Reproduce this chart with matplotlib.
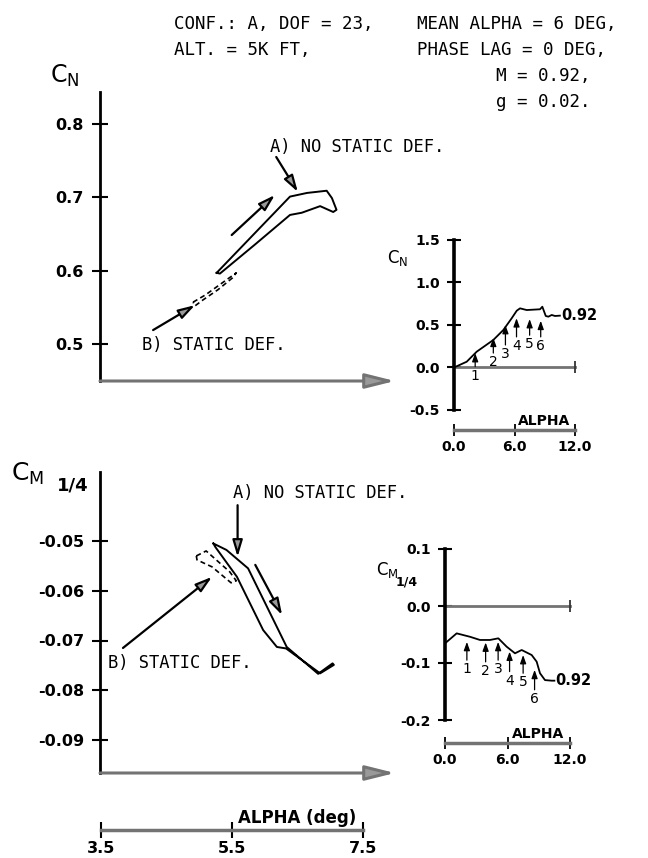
import numpy as np
import matplotlib.pyplot as plt

W, H = 648, 858
MONO = 'DejaVu Sans Mono'

header_left = ['CONF.: A, DOF = 23,', 'ALT. = 5K FT,']
header_right = ['MEAN ALPHA = 6 DEG,', 'PHASE LAG = 0 DEG,']
header_flow = ['M = 0.92,', 'g = 0.02.']

# main C_N hysteresis loops (alpha in deg, C_N)
cn_a_alpha = [5.27, 5.83, 6.39, 6.65, 6.95, 7.03, 7.10, 7.05, 6.85, 6.57, 6.39, 5.86, 5.32, 5.27]
cn_a_val = [0.597, 0.649, 0.701, 0.706, 0.709, 0.699, 0.683, 0.680, 0.688, 0.679, 0.676, 0.636, 0.596, 0.597]
cn_b_alpha = [4.91, 5.10, 5.35, 5.57, 5.51, 5.29, 5.06, 4.94, 4.91]
cn_b_val = [0.557, 0.567, 0.583, 0.597, 0.590, 0.574, 0.560, 0.552, 0.557]
cn_yticks = [0.5, 0.6, 0.7, 0.8]

# main C_M1/4 loops
cm_a_alpha = [5.22, 5.42, 5.75, 6.34, 6.82, 7.04, 7.06, 6.85, 6.33, 6.19, 5.98, 5.58, 5.25, 5.22]
cm_a_val = [-0.0505, -0.0518, -0.0555, -0.0713, -0.0767, -0.0746, -0.0749, -0.0766,
            -0.0716, -0.0713, -0.0679, -0.0572, -0.0512, -0.0505]
cm_b_alpha = [4.96, 5.11, 5.47, 5.57, 5.49, 5.20, 4.97, 4.96]
cm_b_val = [-0.0530, -0.0520, -0.0562, -0.0580, -0.0584, -0.0552, -0.0538, -0.0530]
cm_yticks = [-0.09, -0.08, -0.07, -0.06, -0.05]

main_alpha_ticks = [3.5, 5.5, 7.5]

# inset time histories vs alpha
in_cn_alpha = [0.0, 1.26, 2.25, 3.90, 4.89, 5.72, 6.22, 6.55, 7.21, 8.53, 8.76, 9.10, 9.36, 9.69, 10.02, 10.5]
in_cn_val = [0.0, 0.068, 0.186, 0.324, 0.441, 0.579, 0.668, 0.696, 0.676, 0.685, 0.715, 0.606, 0.598, 0.618, 0.606, 0.61]
in_cm_alpha = [0.1, 1.12, 2.40, 3.36, 4.32, 5.12, 5.92, 6.72, 7.36, 8.32, 8.80, 9.12, 9.60, 10.24, 10.5]
in_cm_val = [-0.064, -0.048, -0.054, -0.0596, -0.0596, -0.0567, -0.0714, -0.083, -0.0772,
             -0.086, -0.0977, -0.118, -0.130, -0.131, -0.131]
in_cn_yticks = [-0.5, 0.0, 0.5, 1.0, 1.5]
in_cm_yticks = [-0.2, -0.1, 0.0, 0.1]
in_alpha_ticks = [0.0, 6.0, 12.0]

frame_alpha = [2.1, 3.9, 5.1, 6.2, 7.5, 8.6]
frame_labels = ['1', '2', '3', '4', '5', '6']
cn_frame_tail = [0.01, 0.17, 0.265, 0.36, 0.38, 0.36]
cn_frame_head = [0.17, 0.35, 0.50, 0.58, 0.57, 0.55]
cm_frame_tail = [-0.095, -0.098, -0.095, -0.115, -0.118, -0.147]
cm_frame_head = [-0.063, -0.064, -0.063, -0.080, -0.086, -0.112]

fig = plt.figure(figsize=(W / 100, H / 100), dpi=100)


def px_axes(x0, y0, x1, y1):
    ax = fig.add_axes([x0 / W, 1 - y1 / H, (x1 - x0) / W, (y1 - y0) / H])
    ax.patch.set_alpha(0)
    ax.spines['top'].set_visible(False)
    ax.spines['right'].set_visible(False)
    return ax


def px_lim(p0, p1, ref_a, ref_b):
    # data values at pixels p0, p1 from two (pixel, value) anchors
    (pa, va), (pb, vb) = ref_a, ref_b
    k = (vb - va) / (pb - pa)
    return va + (p0 - pa) * k, va + (p1 - pa) * k


def bold_ticks(ax):
    for t in ax.get_xticklabels() + ax.get_yticklabels():
        t.set_fontweight('bold')


def axis_arrow(ax):
    ax.annotate('', xy=(1, 0), xytext=(0, 0), xycoords='axes fraction',
                arrowprops=dict(arrowstyle='-|>,head_length=1.8,head_width=0.45',
                                lw=2.2, ec='0.45', fc='0.6', shrinkA=0, shrinkB=0))


def flow_arrow(ax, tail, head):
    ax.annotate('', xy=head, xytext=tail,
                arrowprops=dict(arrowstyle='-|>,head_length=1.0,head_width=0.3',
                                lw=1.6, ec='k', fc='0.6', shrinkA=0, shrinkB=0))


alpha_ref = ((100.7, 3.5), (362.7, 7.5))
TXT = dict(family=MONO, fontsize=12.3, va='center')

# ---- main C_N ----
ax1 = px_axes(100, 92, 395, 381)
ax1.set_xlim(px_lim(100, 395, *alpha_ref))
ax1.set_ylim(px_lim(381, 92, (124, 0.8), (344, 0.5)))
ax1.spines['left'].set_linewidth(2)
ax1.spines['bottom'].set_visible(False)
ax1.set_xticks([])
ax1.set_yticks(cn_yticks, [f'{v:.1f}' for v in cn_yticks])
ax1.tick_params(axis='y', direction='inout', length=11, width=1.5, labelsize=11.5, pad=6)
bold_ticks(ax1)
axis_arrow(ax1)
ax1.plot(cn_a_alpha, cn_a_val, color='k', lw=1.4)
ax1.plot(cn_b_alpha, cn_b_val, color='k', lw=1.2, ls=(0, (3, 2)))
flow_arrow(ax1, (5.50, 0.6486), (6.16, 0.7032))
flow_arrow(ax1, (6.18, 0.755), (6.51, 0.7073))
flow_arrow(ax1, (4.30, 0.519), (4.94, 0.553))
ax1.text(6.09, 0.7686, 'A) NO STATIC DEF.', **TXT)
ax1.text(4.13, 0.4986, 'B) STATIC DEF.', **TXT)

# ---- main C_M1/4 ----
ax2 = px_axes(100, 472, 395, 773)
ax2.set_xlim(px_lim(100, 395, *alpha_ref))
ax2.set_ylim(px_lim(773, 472, (541, -0.05), (740, -0.09)))
ax2.spines['left'].set_linewidth(2)
ax2.set_yticks(cm_yticks, [f'{v:.2f}' for v in cm_yticks])
ax2.tick_params(axis='y', direction='inout', length=11, width=1.5, labelsize=11.5, pad=6)
ax2.spines['bottom'].set_position(('outward', 57 * 0.72))
ax2.spines['bottom'].set_bounds(main_alpha_ticks[0], main_alpha_ticks[-1])
ax2.spines['bottom'].set_color('0.45')
ax2.spines['bottom'].set_linewidth(2.5)
ax2.set_xticks(main_alpha_ticks, [f'{v:.1f}' for v in main_alpha_ticks])
ax2.tick_params(axis='x', direction='inout', length=12, width=1.5, labelsize=11.5, pad=2)
bold_ticks(ax2)
axis_arrow(ax2)
ax2.annotate('ALPHA (deg)', xy=(6.5, 0), xycoords=('data', 'axes fraction'),
             xytext=(0, -39), textcoords='offset points', ha='center', va='bottom',
             fontsize=12, fontweight='bold')
ax2.plot(cm_a_alpha, cm_a_val, color='k', lw=1.4)
ax2.plot(cm_b_alpha, cm_b_val, color='k', lw=1.2, ls=(0, (3, 2)))
flow_arrow(ax2, (5.86, -0.0548), (6.27, -0.0649))
flow_arrow(ax2, (5.59, -0.0428), (5.59, -0.0532))
flow_arrow(ax2, (3.84, -0.0715), (5.20, -0.0572))
ax2.text(5.52, -0.0404, 'A) NO STATIC DEF.', **TXT)
ax2.text(3.61, -0.0745, 'B) STATIC DEF.', **TXT)


# ---- insets ----
def inset(box, xref, yref, yticks, scale_px, alpha, vals, tails, heads):
    ax = px_axes(*box)
    ax.set_xlim(px_lim(box[0], box[2], *xref))
    ax.set_ylim(px_lim(box[3], box[1], *yref))
    ax.spines['left'].set_linewidth(2.6)
    ax.spines['bottom'].set_position(('outward', scale_px * 0.72))
    ax.spines['bottom'].set_bounds(in_alpha_ticks[0], in_alpha_ticks[-1])
    ax.spines['bottom'].set_color('0.45')
    ax.spines['bottom'].set_linewidth(2.5)
    ax.set_yticks(yticks, [f'{v:.1f}' for v in yticks])
    ax.set_xticks(in_alpha_ticks, [f'{v:.1f}' for v in in_alpha_ticks])
    ax.tick_params(axis='y', direction='inout', length=10, width=1.5, labelsize=10, pad=5)
    ax.tick_params(axis='x', direction='inout', length=9, width=1.3, labelsize=10, pad=3)
    bold_ticks(ax)
    ax.plot([in_alpha_ticks[0], in_alpha_ticks[-1]], [0, 0], color='0.45', lw=2)
    ax.plot([in_alpha_ticks[-1]], [0], marker='|', ms=9, mew=1.3, color='0.2')
    ax.plot(alpha, vals, color='k', lw=1.3)
    ax.text(alpha[-1] + 0.1, vals[-1], '0.92', va='center', ha='left', fontsize=10.5,
            fontweight='bold')
    for a, t, h, lab in zip(frame_alpha, tails, heads, frame_labels):
        ax.annotate('', xy=(a, h), xytext=(a, t),
                    arrowprops=dict(arrowstyle='-|>,head_length=0.5,head_width=0.18',
                                    lw=0.9, color='k', shrinkA=0, shrinkB=0))
        ax.annotate(lab, xy=(a, t), xytext=(0, -1.5), textcoords='offset points',
                    ha='center', va='top', fontsize=10)
    ax.annotate('ALPHA', xy=(8.9, 0), xycoords=('data', 'axes fraction'),
                xytext=(0, -scale_px * 0.72 + 1.5), textcoords='offset points',
                ha='center', va='bottom', fontsize=10, fontweight='bold')
    return ax


ax3 = inset((454, 240, 600, 410), ((454, 0.0), (575, 12.0)), ((240, 1.5), (410, -0.5)),
            in_cn_yticks, 20, in_cn_alpha, in_cn_val, cn_frame_tail, cn_frame_head)
ax3.text(-5.6, 1.29, r'$\mathrm{C_N}$', fontsize=12, ha='center', va='center')
ax4 = inset((445, 549, 600, 720), ((445, 0.0), (570, 12.0)), ((549, 0.1), (720, -0.2)),
            in_cm_yticks, 23, in_cm_alpha, in_cm_val, cm_frame_tail, cm_frame_head)
ax4.text(-5.5, 0.063, r'$\mathrm{C_M}$', fontsize=12, ha='center', va='center')
ax4.text(-3.7, 0.042, '1/4', fontsize=9, fontweight='bold', ha='center', va='center')

# ---- labels and header ----
fig.text(50 / W, 1 - 76 / H, r'$\mathrm{C_N}$', fontsize=17, va='center')
fig.text(11 / W, 1 - 474 / H, r'$\mathrm{C_M}$', fontsize=18, va='center')
fig.text(57 / W, 1 - 485 / H, '1/4', fontsize=13, fontweight='bold', va='center')
HDR = dict(TXT, fontsize=12.6)
for i, s in enumerate(header_left):
    fig.text(174 / W, 1 - (24 + 26 * i) / H, s, **HDR)
for i, s in enumerate(header_right):
    fig.text(417 / W, 1 - (24 + 26 * i) / H, s, **HDR)
for i, s in enumerate(header_flow):
    fig.text(496 / W, 1 - (76 + 26 * i) / H, s, **HDR)

fig.savefig('out.png', dpi=100)
